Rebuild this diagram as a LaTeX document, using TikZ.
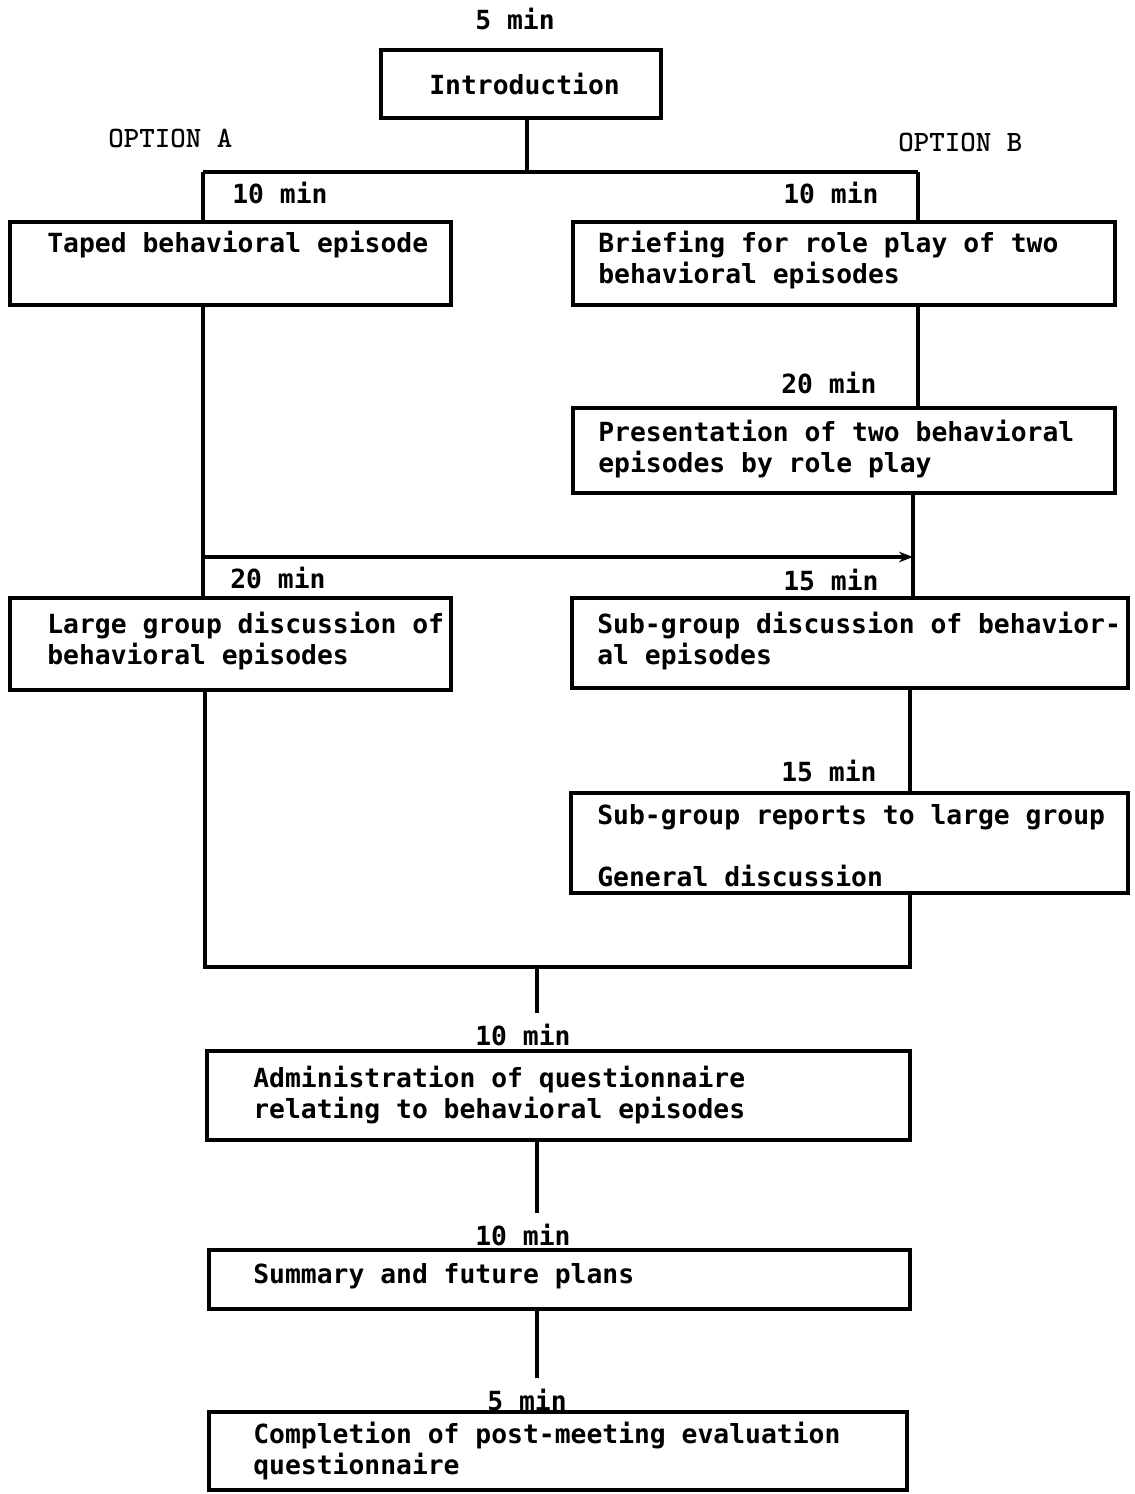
\documentclass[tikz,border=0pt]{standalone}
\usepackage{fontspec}
\newfontfamily\stepmono{DejaVu Sans Mono}
\usetikzlibrary{fit,arrows.meta}

\newcommand{\stepfont}{\stepmono\bfseries\fontsize{15}{17.6}\selectfont}
\tikzset{
  stage/.style={draw, line width=1.8pt, inner sep=0pt},
  txt/.style={anchor=base west, align=left, inner sep=0pt, font=\stepfont},
  opt/.style={anchor=base west, inner sep=0pt, font=\ttfamily\bfseries\fontsize{16.8}{18}\selectfont},
  link/.style={line width=1.8pt},
}

\begin{document}
\begin{tikzpicture}[x=0.02cm,y=-0.02cm]
\useasboundingbox (0,0) rectangle (1134,1494);

% boxes
\node[stage, fit={(381,50)(661,118)}] (intro) {};
\node[stage, fit={(10,222)(451,305)}] (taped) {};
\node[stage, fit={(573,222)(1115,305)}] (brief) {};
\node[stage, fit={(573,408)(1115,493)}] (present) {};
\node[stage, fit={(10,598)(451,690)}] (large) {};
\node[stage, fit={(572,598)(1128,688)}] (subgroup) {};
\node[stage, fit={(571,793)(1128,893)}] (reports) {};
\node[stage, fit={(207,1051)(910,1140)}] (admin) {};
\node[stage, fit={(209,1250)(910,1309)}] (summary) {};
\node[stage, fit={(209,1412)(907,1490)}] (complete) {};

% texts in the boxes (base = last line)
\node[txt] (tIntro) at (429,94) {Introduction};
\node[txt] (tTaped) at (47,252) {Taped behavioral episode};
\node[txt] (tBrief) at (598,283) {Briefing for role play of two\\behavioral episodes};
\node[txt] (tPresent) at (598,472) {Presentation of two behavioral\\episodes by role play};
\node[txt] (tLarge) at (47,664) {Large group discussion of\\behavioral episodes};
\node[txt] (tSub) at (597,664) {Sub-group discussion of behavior-\\al episodes};
\node[txt] (tReports) at (597,886) {Sub-group reports to large group\\[17.6pt]General discussion};
\node[txt] (tAdmin) at (253,1118) {Administration of questionnaire\\relating to behavioral episodes};
\node[txt] (tSummary) at (253,1283) {Summary and future plans};
\node[txt] (tComplete) at (253,1474) {Completion of post-meeting evaluation\\questionnaire};

% times
\node[txt] (m1) at (475,30) {5 min};
\node[txt] (m2) at (232,203) {10 min};
\node[txt] (m3) at (783,203) {10 min};
\node[txt] (m4) at (781,393) {20 min};
\node[txt] (m5) at (230,588) {20 min};
\node[txt] (m6) at (783,590) {15 min};
\node[txt] (m7) at (781,781) {15 min};
\node[txt] (m8) at (475,1045) {10 min};
\node[txt] (m9) at (475,1245) {10 min};
\node[txt] (m10) at (487,1410) {5 min};

% options
\node[opt] (optA) at (108,147) {OPTION A};
\node[opt] (optB) at (898,151) {OPTION B};

% junctions
\coordinate (top) at (527,172);
\coordinate (splitL) at (203,172);
\coordinate (splitR) at (918,172);
\coordinate (joinL) at (203,557);
\coordinate (joinR) at (913,557);
\coordinate (mergeL) at (205,967);
\coordinate (mergeR) at (910,967);
\coordinate (spine) at (537,967);

% connectors
\draw[link] (intro.south -| top) -- (top);
\draw[link] (splitL) -- (splitR);
\draw[link] (splitL) -- (splitL |- taped.north);
\draw[link] (splitR) -- (splitR |- brief.north);
\draw[link] (brief.south -| splitR) -- (present.north -| splitR);
\draw[link] (taped.south -| joinL) -- (large.north -| joinL);
\draw[link] (present.south -| joinR) -- (subgroup.north -| joinR);
\draw[link, -{Stealth[length=8pt,width=6pt]}] (joinL) -- (joinR);
\draw[link] (subgroup.south -| mergeR) -- (reports.north -| mergeR);
\draw[link] (large.south -| mergeL) -- (mergeL) -- (mergeR) -- (reports.south -| mergeR);
% the spine stops above the time labels
\draw[link, shorten >=6pt] (spine) -- (spine |- m8.north);
\draw[link, shorten >=6pt] (admin.south -| spine) -- (spine |- m9.north);
\draw[link, shorten >=6pt] (summary.south -| spine) -- (spine |- m10.north);
\end{tikzpicture}
\end{document}
